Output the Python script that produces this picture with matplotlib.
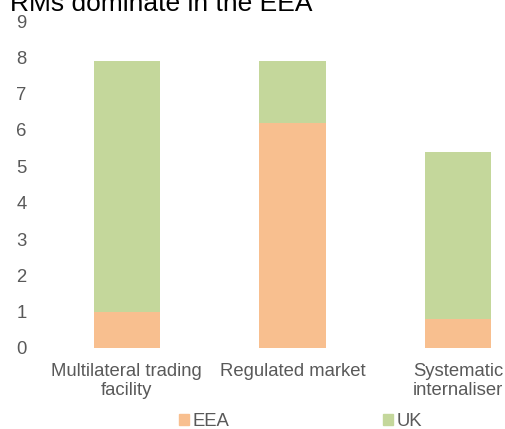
import matplotlib
matplotlib.use("Agg")
import matplotlib.pyplot as plt
from matplotlib.patches import Patch

categories = ["Multilateral trading\nfacility", "Regulated market", "Systematic\ninternaliser"]
eea = [1.0, 6.2, 0.8]
uk = [6.9, 1.7, 4.6]
series_names = ["EEA", "UK"]
yticks = list(range(0, 10))

c_eea = "#F8BF8F"
c_uk = "#C4D79B"
gray = "#595959"

plt.rcParams["font.family"] = ["Liberation Sans", "DejaVu Sans"]

fig = plt.figure(figsize=(5.05, 4.29), dpi=100)
ax = fig.add_axes([44/505, 1 - 348/429, 497/505, (348 - 21)/429])

x = list(range(len(categories)))
ax.bar(x, eea, width=0.4, color=c_eea, label=series_names[0])
ax.bar(x, uk, width=0.4, bottom=eea, color=c_uk, label=series_names[1])

fs = 13.3
ax.set_xlim(-0.5, 2.5)
ax.set_ylim(0, 9)
ax.set_yticks(yticks)
ax.set_xticks(x)
ax.set_xticklabels(categories, fontsize=fs, color=gray, linespacing=1.1)
ax.tick_params(axis="both", length=0, colors=gray, labelsize=fs)
ax.tick_params(axis="y", pad=20)
ax.tick_params(axis="x", pad=11)
for lab in ax.get_yticklabels():
    lab.set_horizontalalignment("left")
for s in ax.spines.values():
    s.set_visible(False)

fig.text(10/505, 1 - 11/429, "RMs dominate in the EEA", fontsize=19, color="black",
         ha="left", va="baseline")

handles = [Patch(color=c_eea), Patch(color=c_uk)]
fig.legend(handles, series_names, loc="center", bbox_to_anchor=(300.5/505, 1 - 422/429),
           ncol=2, frameon=False, fontsize=fs, labelcolor=gray,
           handlelength=0.54, handleheight=0.54, handletextpad=0.22, columnspacing=8.3,
           borderpad=0, borderaxespad=0)

fig.savefig("out.png", dpi=100)
